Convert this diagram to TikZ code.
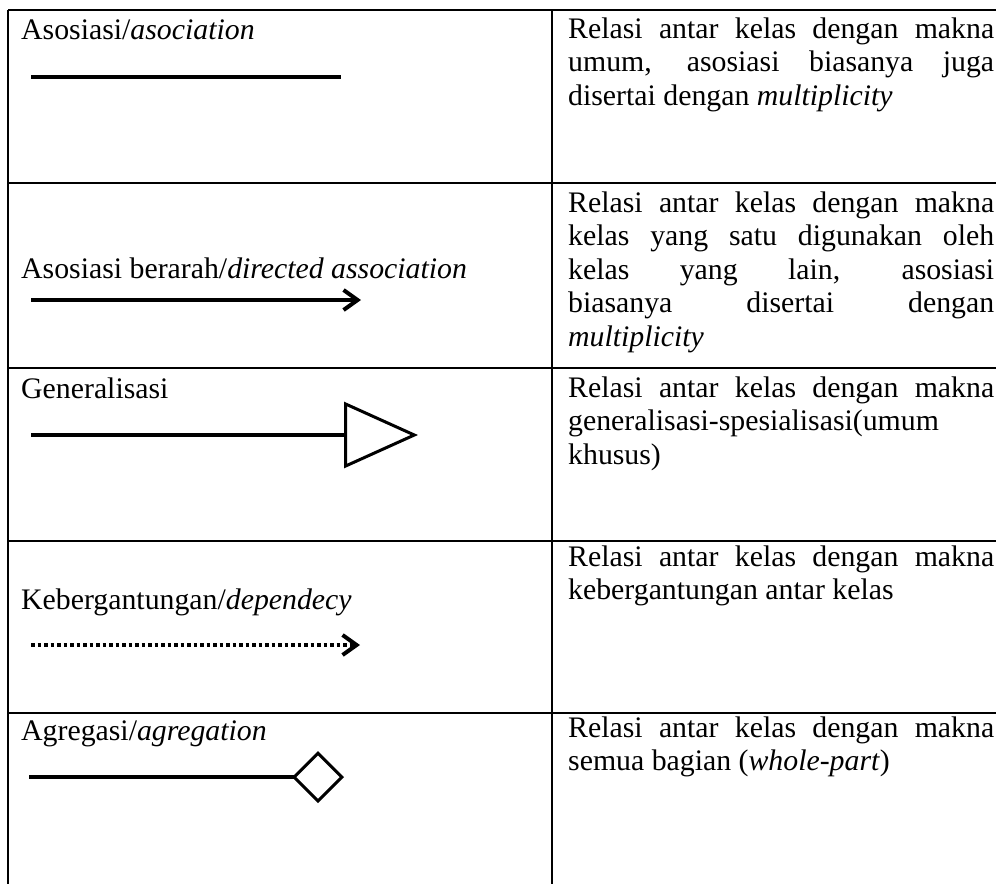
\documentclass[tikz,border=0pt]{standalone}
\usepackage{fontspec}
\setmainfont{Liberation Serif}
\usetikzlibrary{arrows.meta}
\hyphenpenalty=10000

\begin{document}
\begin{tikzpicture}[x=1pt,y=-1pt]
  \tikzset{rule/.style = {line width=2.6pt}}
  \tikzset{kind/.style = {anchor=base west,inner sep=0pt,font=\fontsize{29.8}{33.5}\selectfont}}
  \tikzset{meaning/.style = {kind,text width=426pt,align=justify}}
  \tikzset{rel/.style = {line width=4pt}}
  \useasboundingbox (0,0) rectangle (996,884);

	% table
	\draw[rule] (8,10) -- (996,10);
	\draw[rule] (8,183) -- (996,183);
	\draw[rule] (8,368) -- (996,368);
	\draw[rule] (8,541) -- (996,541);
	\draw[rule] (8,713) -- (996,713);
	\draw[rule] (8,10) -- (8,884);
	\draw[rule] (552,10) -- (552,884);

	% left column
	\node[kind] (asoc) at (21,39) {Asosiasi/\textit{asociation}};
	\node[kind] (dirasoc) at (21,278) {Asosiasi berarah/\textit{directed association}};
	\node[kind] (gen) at (21,398) {Generalisasi};
	\node[kind] (dep) at (21,609) {Kebergantungan/\textit{dependecy}};
	\node[kind] (agr) at (21,740) {Agregasi/\textit{agregation}};

	% right column
	\node[meaning] (asocdesc) at (568,38) {Relasi antar kelas dengan makna\linebreak umum, asosiasi biasanya juga\linebreak disertai dengan \textit{multiplicity}};
	\node[meaning] (dirasocdesc) at (568,212) {Relasi antar kelas dengan makna\linebreak kelas yang satu digunakan oleh\linebreak kelas yang lain, asosiasi\linebreak biasanya disertai dengan\linebreak \textit{multiplicity}};
	\node[meaning] (gendesc) at (568,397) {Relasi antar kelas dengan makna\linebreak generalisasi-spesialisasi(umum\\ khusus)};
	\node[meaning] (depdesc) at (568,566) {Relasi antar kelas dengan makna\linebreak kebergantungan antar kelas};
	\node[meaning] (agrdesc) at (568,737) {Relasi antar kelas dengan makna\linebreak semua bagian (\textit{whole-part})};

	% relations
	\coordinate (as1) at (31,77);
	\coordinate (as2) at (341,77);
	\draw[rel] (as1) -- (as2);

	\coordinate (da1) at (31,300);
	\coordinate (da2) at (361,300);
	\draw[rel,-{Straight Barb[length=14pt,width=20pt]}] (da1) -- (da2);

	\coordinate (ge1) at (31,435);
	\coordinate (ge2) at (418,435);
	\draw[rel,-{Triangle[open,length=74pt,width=66pt,line width=3pt]}] (ge1) -- (ge2);

	\coordinate (de1) at (31,645);
	\coordinate (de2) at (360,645);
	\draw[rel,dash pattern=on 3.5pt off 3pt,-{Straight Barb[length=14pt,width=20pt]}] (de1) -- (de2);

	\coordinate (ag1) at (29,777);
	\coordinate (ag2) at (344,777);
	\draw[rel,-{Diamond[open,length=52pt,width=52pt,line width=3pt]}] (ag1) -- (ag2);
\end{tikzpicture}
\end{document}
